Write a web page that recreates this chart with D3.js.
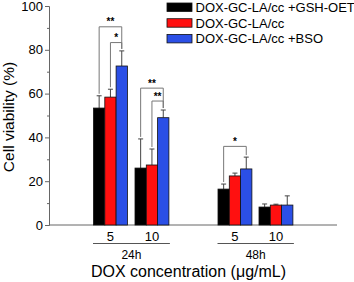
<!DOCTYPE html>
<html>
<head>
<meta charset="utf-8">
<script src="https://cdn.jsdelivr.net/npm/d3@7"></script>
<style>
  body { margin: 0; background: #fff; }
  text { font-family: "Liberation Sans", Arial, sans-serif; }
</style>
</head>
<body>
<svg id="chart" width="354" height="282"></svg>
<script>
// data
const groups = ["24h", "48h"];
const doses = ["5", "10"];
const seriesNames = ["DOX-GC-LA/cc +GSH-OET", "DOX-GC-LA/cc", "DOX-GC-LA/cc +BSO"];
const seriesColors = ["#000000", "#ff1010", "#2b4fe6"];
// values per series, order: 24h-5, 24h-10, 48h-5, 48h-10
const gshValues = [53.4, 26.0, 16.4, 8.2];
const ccValues = [58.4, 27.4, 22.4, 9.1];
const bsoValues = [72.6, 49.0, 25.6, 9.1];
const gshErr = [5.6, 13.3, 2.3, 1.4];
const ccErr = [3.6, 7.3, 1.3, 0.4];
const bsoErr = [6.9, 3.5, 5.4, 4.2];
const yTicks = [0, 20, 40, 60, 80, 100];
// significance: [cluster index, series from, series to, label, level]
const sigs = [
  [0, 0, 2, "**", 90.5],
  [0, 1, 2, "*", 83.3],
  [1, 0, 2, "**", 62.5],
  [1, 1, 2, "**", 56.6],
  [2, 0, 2, "*", 35.9]
];

const svg = d3.select("#chart");
const y = d3.scaleLinear().domain([0, 100]).range([225, 6]);
// cluster positions (left edge of black bar)
const clusterX = d3.scaleOrdinal().domain([0, 1, 2, 3]).range([93.5, 135, 218, 259]);
const barW = 11.3;
const values = [gshValues, ccValues, bsoValues];
const errs = [gshErr, ccErr, bsoErr];
const axisColor = "#666";

// y axis
const yAxis = d3.axisLeft(y).tickValues(yTicks).tickSize(4).tickPadding(2);
const gy = svg.append("g").attr("transform", "translate(49,0)").call(yAxis);
gy.select(".domain").attr("stroke", axisColor);
gy.selectAll(".tick line").attr("stroke", axisColor);
gy.selectAll(".tick text").style("font-size", "13px").attr("fill", "#000")
  .style("font-family", "Liberation Sans, Arial, sans-serif");
const gyMinor = svg.append("g").attr("transform", "translate(49,0)")
  .call(d3.axisLeft(y).tickValues([10, 30, 50, 70, 90]).tickSize(2).tickFormat(""));
gyMinor.select(".domain").remove();
gyMinor.selectAll(".tick line").attr("stroke", axisColor);

// x axis line
svg.append("line").attr("x1", 49).attr("x2", 337).attr("y1", y(0)).attr("y2", y(0))
  .attr("stroke", axisColor).attr("stroke-width", 1);

// bars + error bars
values.forEach((vals, s) => {
  const g = svg.append("g");
  vals.forEach((v, i) => {
    const x0 = clusterX(i) + s * barW;
    const cx = x0 + barW / 2;
    const top = y(v + errs[s][i]);
    g.append("line").attr("x1", cx).attr("x2", cx).attr("y1", y(v)).attr("y2", top)
      .attr("stroke", "#444").attr("stroke-width", 1);
    g.append("line").attr("x1", cx - 2.5).attr("x2", cx + 2.5).attr("y1", top).attr("y2", top)
      .attr("stroke", "#444").attr("stroke-width", 1);
    g.append("rect").attr("x", x0).attr("y", y(v)).attr("width", barW).attr("height", y(0) - y(v))
      .attr("fill", seriesColors[s]).attr("stroke", "#111").attr("stroke-width", 0.8);
  });
});

// dose labels
[0, 1, 2, 3].forEach(i => {
  svg.append("text").attr("x", clusterX(i) + barW * 1.5).attr("y", 241)
    .attr("text-anchor", "middle").style("font-size", "13px").text(doses[i % 2]);
});
// time group lines + labels
groups.forEach((grp, k) => {
  const x1 = clusterX(k * 2) - 0.5, x2 = clusterX(k * 2 + 1) + barW * 3 + 1;
  svg.append("line").attr("x1", x1).attr("x2", x2).attr("y1", 243.5).attr("y2", 243.5)
    .attr("stroke", "#555").attr("stroke-width", 1);
  svg.append("text").attr("x", (x1 + x2) / 2).attr("y", 259)
    .attr("text-anchor", "middle").style("font-size", "12px").text(grp);
});

// significance brackets
sigs.forEach(([ci, a, b, label, level]) => {
  const xa = clusterX(ci) + a * barW + barW / 2;
  const xb = clusterX(ci) + b * barW + barW / 2;
  const ya = y(values[a][ci] + errs[a][ci]) - 2;
  const yb = y(values[b][ci] + errs[b][ci]) - 2;
  const yl = y(level);
  svg.append("path").attr("d", `M${xa},${ya}V${yl}H${xb}V${yb}`)
    .attr("fill", "none").attr("stroke", "#777").attr("stroke-width", 1);
  svg.append("text").attr("x", (xa + xb) / 2).attr("y", yl - 1.5)
    .attr("text-anchor", "middle").style("font-size", "10px").style("font-weight", "bold").text(label);
});

// legend
seriesNames.forEach((name, s) => {
  svg.append("rect").attr("x", 167).attr("y", 3 + s * 15.7).attr("width", 25).attr("height", 8.5)
    .attr("fill", seriesColors[s]).attr("stroke", "#111").attr("stroke-width", 0.8);
  svg.append("text").attr("x", 195.5).attr("y", 12 + s * 15.7)
    .style("font-size", "13px").text(name);
});

// axis titles
svg.append("text").attr("transform", "translate(14,117) rotate(-90)")
  .attr("text-anchor", "middle").style("font-size", "15.5px").text("Cell viability (%)");
svg.append("text").attr("x", 188.5).attr("y", 277)
  .attr("text-anchor", "middle").style("font-size", "16px").text("DOX concentration (μg/mL)");
</script>
</body>
</html>
